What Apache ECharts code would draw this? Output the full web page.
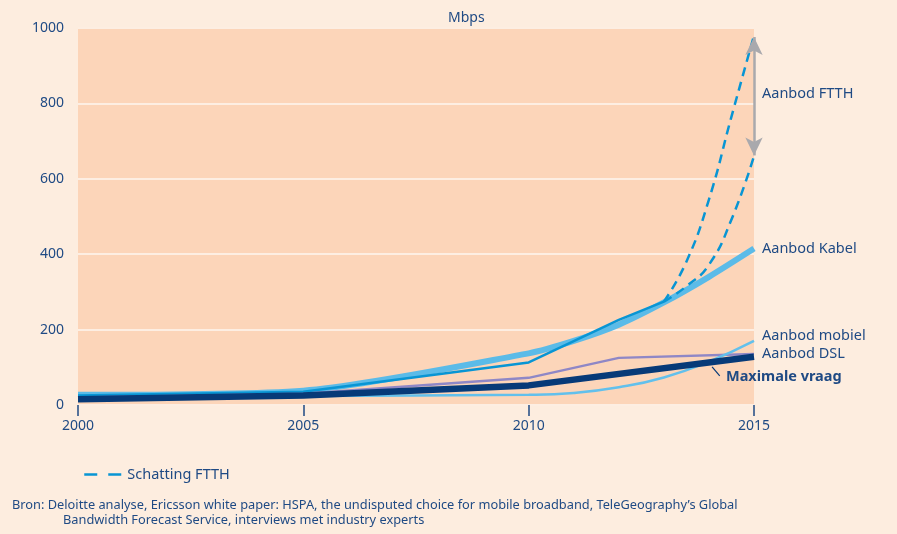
<!DOCTYPE html>
<html>
<head>
<meta charset="utf-8">
<script src="https://cdn.jsdelivr.net/npm/echarts@6/dist/echarts.min.js"></script>
<style>
  html, body { margin: 0; padding: 0; background: #fdeddf; }
  #myChart { width: 897px; height: 534px; }
</style>
</head>
<body>
<div id="myChart"></div>
<script>
// values (Mbps per year)
const kabelData = [[2000, 27], [2005, 38], [2010, 137], [2011, 170], [2012, 213], [2013, 272], [2014, 340], [2015, 415]];
const ftthData = [[2000, 25], [2005, 35], [2010, 113], [2012, 226], [2013, 274]];
const ftthHighData = [[2013, 274], [2013.5, 380], [2014, 545], [2014.5, 765], [2015, 980]];
const ftthLowData = [[2013, 274], [2013.5, 315], [2014, 372], [2014.5, 492], [2015, 660]];
const dslData = [[2000, 20], [2005, 30], [2010, 72], [2012, 125], [2015, 135]];
const mobielData = [[2000, 17], [2005, 24], [2010, 27], [2011, 32], [2012, 47], [2013, 73], [2014, 115], [2015, 170]];
const vraagData = [[2000, 15], [2005, 25], [2010, 52], [2015, 128]];
const yearTicks = [2000, 2005, 2010, 2015];
const bronLines = [
  "Bron: Deloitte analyse, Ericsson white paper: HSPA, the undisputed choice for mobile broadband, TeleGeography\u2019s Global",
  "Bandwidth Forecast Service, interviews met industry experts"
];

const navy = "#1f4a84";
const font = "Noto Sans";

let myChart = echarts.init(document.getElementById("myChart"));
const labelStyle = { color: navy, fontFamily: font, fontSize: 14.5 };

myChart.setOption({
  animation: false,
  backgroundColor: "#fdeddf",
  textStyle: { fontFamily: font },
  title: {
    text: "Mbps",
    left: 443,
    top: 6,
    textStyle: { color: navy, fontFamily: font, fontSize: 14, fontWeight: "normal" }
  },
  legend: {
    data: ["Schatting FTTH"],
    left: 78,
    top: 462,
    itemWidth: 38,
    itemHeight: 14,
    itemStyle: { opacity: 0 },
    lineStyle: { type: [13, 11], width: 2.5 },
    textStyle: { color: navy, fontFamily: font, fontSize: 14.5 }
  },
  grid: {
    left: 78,
    right: 143,
    top: 28,
    bottom: 129,
    show: true,
    backgroundColor: "#fcd5b9",
    borderWidth: 0
  },
  xAxis: {
    type: "value",
    min: 2000,
    max: 2015,
    interval: 5,
    axisLine: { show: false },
    axisTick: { show: true, inside: false, length: 11, lineStyle: { color: navy, width: 1.5 } },
    axisLabel: {
      color: navy, fontFamily: font, fontSize: 14, margin: 14,
      formatter: v => (yearTicks.indexOf(v) >= 0 ? String(v) : "")
    },
    splitLine: { show: false }
  },
  yAxis: {
    type: "value",
    min: 0,
    max: 1000,
    interval: 200,
    axisLine: { show: false },
    axisTick: { show: false },
    axisLabel: { color: navy, fontFamily: font, fontSize: 14, margin: 14, formatter: v => String(v) },
    splitLine: { lineStyle: { color: "#fdeee2", width: 2 } }
  },
  series: [
    {
      name: "Aanbod Kabel",
      type: "line",
      smooth: 0.25,
      symbol: "none",
      z: 2,
      lineStyle: { color: "#5bbbe8", width: 6 },
      itemStyle: { color: "#5bbbe8" },
      endLabel: { show: true, formatter: "Aanbod Kabel", distance: 8, ...labelStyle },
      data: kabelData
    },
    {
      name: "Aanbod FTTH",
      type: "line",
      symbol: "none",
      z: 3,
      lineStyle: { color: "#0895d4", width: 2.5 },
      data: ftthData
    },
    {
      name: "Schatting FTTH",
      type: "line",
      smooth: true,
      symbol: "none",
      z: 3,
      lineStyle: { color: "#0895d4", width: 2.5, type: [9, 6] },
      itemStyle: { color: "#0895d4" },
      endLabel: { show: true, formatter: "Aanbod FTTH", distance: 8, offset: [0, 58], ...labelStyle },
      markLine: {
        silent: true,
        symbol: ["arrow", "arrow"],
        symbolSize: [13, 18],
        label: { show: false },
        lineStyle: { color: "#a9a9ad", width: 2.5, type: "solid" },
        data: [[{ coord: [2015, 976] }, { coord: [2015, 662] }]]
      },
      data: ftthHighData
    },
    {
      name: "Schatting FTTH",
      type: "line",
      smooth: true,
      symbol: "none",
      z: 3,
      lineStyle: { color: "#0895d4", width: 2.5, type: [9, 6] },
      itemStyle: { color: "#0895d4" },
      data: ftthLowData
    },
    {
      name: "Aanbod DSL",
      type: "line",
      symbol: "none",
      z: 4,
      lineStyle: { color: "#8f87c6", width: 2.5 },
      endLabel: { show: true, formatter: "Aanbod DSL", distance: 8, ...labelStyle },
      data: dslData
    },
    {
      name: "Aanbod mobiel",
      type: "line",
      smooth: true,
      symbol: "none",
      z: 5,
      lineStyle: { color: "#62c0ec", width: 2.5 },
      endLabel: { show: true, formatter: "Aanbod mobiel", distance: 8, offset: [0, -5], ...labelStyle },
      data: mobielData
    },
    {
      name: "Maximale vraag",
      type: "line",
      symbol: "none",
      z: 6,
      lineStyle: { color: "#073a78", width: 6.5 },
      endLabel: {
        show: true, formatter: "Maximale vraag", distance: 8, offset: [-36, 20],
        ...labelStyle, fontWeight: "bold"
      },
      markLine: {
        silent: true,
        symbol: "none",
        label: { show: false },
        lineStyle: { color: "#073a78", width: 1.2, type: "solid" },
        data: [[{ coord: [2014.07, 101] }, { coord: [2014.24, 77] }]]
      },
      data: vraagData
    }
  ],
  graphic: bronLines.map((line, i) => ({
    type: "text",
    left: i === 0 ? 12 : 63,
    top: 499 + i * 15,
    style: { text: line, fill: navy, font: "12.8px 'Noto Sans'" }
  }))
});
</script>
</body>
</html>
